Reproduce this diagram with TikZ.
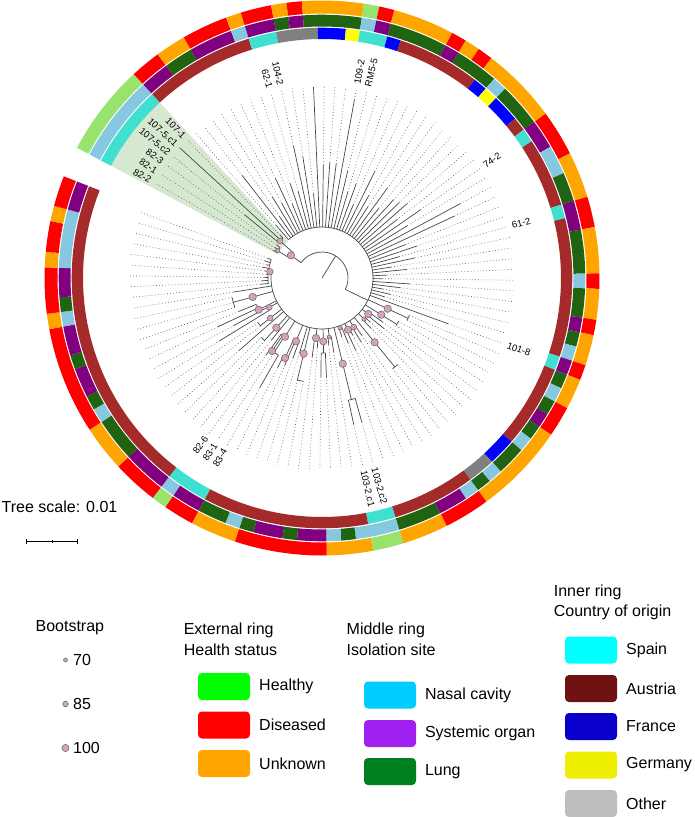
\documentclass[tikz,border=0pt]{standalone}
\usepackage{fontspec}
\setmainfont{Liberation Sans}
% ring colours
\definecolor{hG}{RGB}{152,226,110}
\definecolor{hR}{RGB}{255,0,0}
\definecolor{hO}{RGB}{255,165,0}
\definecolor{sL}{RGB}{135,200,225}
\definecolor{sP}{RGB}{128,0,128}
\definecolor{sD}{RGB}{32,100,18}
\definecolor{cC}{RGB}{64,224,208}
\definecolor{cB}{RGB}{165,42,42}
\definecolor{cF}{RGB}{0,0,255}
\definecolor{cY}{RGB}{255,255,0}
\definecolor{cO}{RGB}{128,128,128}
% legend colours
\definecolor{lgG}{RGB}{0,255,0}
\definecolor{lgR}{RGB}{255,0,0}
\definecolor{lgO}{RGB}{255,165,0}
\definecolor{lgL}{RGB}{0,204,255}
\definecolor{lgP}{RGB}{160,32,240}
\definecolor{lgD}{RGB}{0,128,32}
\definecolor{lgC}{RGB}{0,255,255}
\definecolor{lgB}{RGB}{112,18,18}
\definecolor{lgF}{RGB}{10,0,204}
\definecolor{lgY}{RGB}{238,238,0}
\definecolor{lgO2}{RGB}{190,190,190}
\definecolor{pinkc}{RGB}{215,160,190}
\definecolor{wedgec}{RGB}{214,232,208}
\begin{document}
\begin{tikzpicture}[x=1pt,y=1pt,
  branch/.style={draw=black!72, line width=0.7pt},
  dots/.style={draw=black!62, line width=0.6pt, dash pattern=on 0.8pt off 2.3pt},
  bnode/.style={fill=pinkc, draw=black!60, line width=0.5pt},
  lab/.style={font=\fontsize{9.5}{11}\selectfont, inner sep=0pt},
  legt/.style={font=\fontsize{16}{19}\selectfont, inner sep=0pt, anchor=west},
  swatch/.style={rounded corners=4pt, minimum width=52pt, minimum height=27pt, inner sep=0pt}]
\useasboundingbox (0,0) rectangle (694,-817);
\begin{scope}[shift={(322,-278)}]
% highlighted clade
\fill[wedgec] (132.72:50) arc[start angle=132.72, end angle=152, radius=50] -- (152:239) arc[start angle=152, end angle=132.72, radius=239] -- cycle;
% outer ring: health status
\foreach \s/\e/\c in {0/5/hG,6/7/hR,8/9/hO,10/12/hR,13/13/hO,14/15/hR,16/16/hO,17/17/hR,18/21/hO,22/22/hG,23/23/hR,24/27/hO,28/28/hR,29/29/hO,30/30/hR,31/35/hO,36/38/hR,39/41/hO,42/43/hR,44/46/hO,47/47/hR,48/49/hO,50/50/hR,51/52/hO,53/53/hR,54/55/hO,56/57/hR,58/63/hO,64/66/hR,67/69/hO,70/71/hG,72/74/hO,75/80/hR,81/83/hO,84/85/hR,86/86/hG,87/89/hR,90/92/hO,93/99/hR,100/100/hO,101/103/hR,104/104/hO,105/106/hR,107/107/hO,108/109/hR}{
  \pgfmathsetmacro{\aA}{152-\s*3.21364}
  \pgfmathsetmacro{\aB}{152-(\e+1)*3.21364}
  \fill[\c] (\aA:264.5) arc[start angle=\aA, end angle=\aB, radius=264.5] -- (\aB:277.5) arc[start angle=\aB, end angle=\aA, radius=277.5] -- cycle;
}
% middle ring: isolation site
\foreach \s/\e/\c in {0/5/sL,6/7/sP,8/9/sD,10/12/sP,13/13/sL,14/15/sP,16/16/sD,17/17/sP,18/21/sD,22/22/sL,23/23/sP,24/27/sD,28/28/sP,29/31/sD,32/32/sL,33/35/sD,36/37/sP,38/39/sL,40/41/sD,42/43/sP,44/46/sD,47/47/sL,48/49/sD,50/50/sP,51/51/sD,52/52/sL,53/53/sP,54/54/sD,55/55/sL,56/56/sD,57/57/sP,58/58/sD,59/59/sL,60/61/sD,62/62/sL,63/63/sD,64/64/sL,65/66/sP,67/69/sD,70/72/sL,73/73/sD,74/74/sL,75/76/sP,77/77/sD,78/79/sP,80/80/sD,81/81/sL,82/83/sD,84/85/sP,86/86/sL,87/89/sP,90/92/sD,93/93/sL,94/94/sD,95/96/sP,97/97/sD,98/99/sP,100/100/sL,101/101/sD,102/103/sP,104/107/sL,108/109/sP}{
  \pgfmathsetmacro{\aA}{152-\s*3.21364}
  \pgfmathsetmacro{\aB}{152-(\e+1)*3.21364}
  \fill[\c] (\aA:251.5) arc[start angle=\aA, end angle=\aB, radius=251.5] -- (\aB:263.3) arc[start angle=\aB, end angle=\aA, radius=263.3] -- cycle;
}
% inner ring: country
\foreach \s/\e/\c in {0/5/cC,6/13/cB,14/15/cC,16/18/cO,19/20/cF,21/21/cY,22/23/cC,24/24/cF,25/30/cB,31/31/cF,32/32/cY,33/34/cF,35/35/cB,36/36/cC,37/41/cB,42/42/cC,43/52/cB,53/53/cC,54/59/cB,60/61/cF,62/63/cO,64/69/cB,70/71/cC,72/83/cB,84/86/cC,87/109/cB}{
  \pgfmathsetmacro{\aA}{152-\s*3.21364}
  \pgfmathsetmacro{\aB}{152-(\e+1)*3.21364}
  \fill[\c] (\aA:239) arc[start angle=\aA, end angle=\aB, radius=239] -- (\aB:250.3) arc[start angle=\aB, end angle=\aA, radius=250.3] -- cycle;
}
% leaves: index / start of solid / end of solid
\foreach \i/\rs/\L in {0/52/56,1/52/56,2/52/56,3/56/100,4/56/193,5/56/60,
  6/51/70,7/51/130,8/51/75,9/51/95,10/51/85,11/51/110,12/51/80,13/51/100,14/51/90,15/51/135,
  16/51/123,17/51/85,18/51/191,19/51/113,20/51/116,21/51/115,22/51/181,23/51/110,24/51/90,25/51/100,
  26/51/80,27/51/119,28/51/95,29/51/85,30/51/111,31/51/90,32/51/106,33/51/108,34/51/113,35/51/95,
  36/51/120,37/51/100,38/51/157,39/51/146,40/51/90,41/51/100,42/51/80,43/51/95,44/51/70,45/51/85,
  46/51/65,47/51/60,48/51/88,49/51/79,50/51/62,51/51/70,52/51/65,53/51/134,54/95/95,55/95/95,
  56/88/88,57/88/88,58/58.6/75,59/58.6/80,60/58.7/65,61/58.7/70,62/115/115,63/115/115,64/58.4/70,65/58.4/75,
  66/57.9/65,67/57.9/80,68/52.9/70,69/52.9/62,70/125/150,71/125/150,72/59.5/75,73/59.5/68,74/75/99,75/75/99,
  76/60.3/70,77/60.3/80,78/105/105,79/105/105,80/51/78,81/68.4/85,82/68.4/95,83/88.1/100,84/88.5/126,85/69.4/90,
  86/69.4/95,87/51/80,88/85/85,89/85/85,90/51/110,91/78/78,92/78/78,93/60.3/120,94/60.3/100,95/70.8/115,
  96/70.8/90,97/92/92,98/92/92,99/92/92,100/51/90,101/54/62,102/54/60,103/54/58,104/54/56,105/54/58,
  106/54/60,107/54/57,108/54/60,109/54/58}{
  \pgfmathsetmacro{\t}{152-(\i+0.5)*3.21364}
  \ifdim \L pt>\rs pt \draw[branch] (\t:\rs) -- (\t:\L); \fi
  \ifdim \L pt<189pt \draw[dots] (\t:\L) -- (\t:192); \fi
}
% radial stems of internal branches
\foreach \t/\a/\b in {58.4/0/26,143.8/26/38.4,-26/26/51,148.4/38.4/52,138.6/38.4/56,
  -25.1/51/72.5,-25.1/72.5/95,-31.8/51/69.7,-31.8/69.7/88,-37.9/51/58.6,-44.3/51/58.7,
  -50.7/51/83.1,-50.7/83.1/115,-57.1/51/58.4,-63.3/51/57.9,-70.1/51/52.9,-76.4/51/88.2,-76.4/88.2/125,
  -83/51/59.5,-88.8/51/63.3,-88.8/63.3/75,-95.7/51/60.3,-103.6/51/77.9,-103.6/77.9/105,
  -112.3/51/68.4,-114.8/68.4/88.1,-122.2/51/69.4,-124.4/69.4/88.5,-132.6/51/67.5,-132.6/67.5/85,
  -142.3/51/65.4,-142.3/65.4/78,-150.9/51/60.3,-153.4/51/70.8,-164.7/51/71.9,-164.7/71.9/92,173.1/51/54}{
  \draw[branch] (\t:\a) -- (\t:\b);
}
% arcs joining children
\foreach \p/\q/\r in {143.8/-26/26,148.4/138.6/38.4,150.4/144.0/52,140.8/134.3/56,131.1/-186.9/51,
  -23.1/-26.3/95,-29.5/-32.7/88,-35.9/-39.1/58.6,-42.3/-45.6/58.7,-48.8/-52.0/115,-55.2/-58.4/58.4,
  -61.6/-64.8/57.9,-68.0/-71.3/52.9,-74.5/-77.7/125,-80.9/-84.1/59.5,-87.3/-90.5/75,-93.7/-97.0/60.3,
  -100.2/-103.6/105,-109.8/-114.8/68.4,-114.8/-116.2/88.1,-119.4/-124.4/88.5,-122.2/-125.9/69.4,
  -132.3/-135.5/85,-141.9/-145.1/78,-148.4/-151.6/60.3,-153.4/-158.0/70.8,-161.2/-167.6/92,-174.1/-199.7/54}{
  \draw[branch] (\p:\r) arc[start angle=\p, end angle=\q, radius=\r];
}
% bootstrap circles
\foreach \t/\r/\s in {138.6/56/2.9,148.4/52/2.2,143.8/38.4/3.7,173.1/52.4/3.2,-164.7/71.9/3.7,
  -153.4/70.8/3.7,-150.9/60.3/2.9,-142.3/65.4/2.9,-132.6/67.5/3.7,-122.2/69.4/3.7,-112.3/68.4/3.7,
  -124.4/88.5/3.7,-114.8/88.1/3.7,-103.6/77.9/3.7,-95.7/60.3/3.7,-88.8/63.3/3.7,-83/59.5/2.1,
  -70.1/52.9/2.2,-63.3/57.9/3.7,-57.1/58.4/2.9,-76.4/88.2/3.7,-44.3/58.7/2.2,-37.9/58.6/3.7,
  -31.8/69.7/3.7,-25.1/72.5/3.7,-50.7/83.1/3.7}{
  \draw[bnode] (\t:\r) circle[radius=\s];
}
% tip labels
\foreach \i/\txt in {0/82-2,1/82-1,2/82-3,3/107-5.c2,4/107-5.c1,5/107-1,14/62-1,15/104-2,22/109-2,23/RM5-5,
  36/74-2,42/61-2,53/101-8,70/103-2.c2,71/103-2.c1,84/83-4,85/83-1,86/82-6}{
  \pgfmathsetmacro{\t}{152-(\i+0.5)*3.21364}
  \ifdim \t pt>90pt
    \node[lab, rotate=\t-180, anchor=east] (lab\i) at (\t:197) {\txt};
  \else\ifdim \t pt<-90pt
    \node[lab, rotate=\t+180, anchor=east] (lab\i) at (\t:197) {\txt};
  \else
    \node[lab, rotate=\t, anchor=west] (lab\i) at (\t:197) {\txt};
  \fi\fi
}
\end{scope}
% tree scale
\node[legt] (tscale) at (1.5,-506.7) {Tree scale: 0.01};
\draw[line width=0.9pt] (26.7,-541.7) -- (77.3,-541.7);
\draw[line width=0.9pt] (26.7,-539.3) -- (26.7,-544.1);
\draw[line width=0.9pt] (77.3,-539.3) -- (77.3,-544.1);
\draw[line width=0.7pt] (52,-540.4) -- (52,-543);
% legend: bootstrap
\node[legt] (bt) at (35.4,-628) {Bootstrap};
\draw[bnode] (65.5,-660) circle[radius=2];
\node[legt] (b70) at (73,-660) {70};
\draw[bnode] (65.5,-704) circle[radius=2.8];
\node[legt] (b85) at (73,-704) {85};
\draw[bnode] (65.5,-748) circle[radius=3.6];
\node[legt] (b100) at (73,-748) {100};
% legend: external ring
\node[legt] (e1) at (183.6,-630) {External ring};
\node[legt] (e2) at (183.6,-649.3) {Health status};
\node[swatch, fill=lgG] (swh) at (224,-686.5) {};
\node[legt] (th) at (259,-686.5) {Healthy};
\node[swatch, fill=lgR] (swd) at (224,-725) {};
\node[legt] (td) at (259,-725) {Diseased};
\node[swatch, fill=lgO] (swu) at (224,-763.5) {};
\node[legt] (tu) at (259,-763.5) {Unknown};
% legend: middle ring
\node[legt] (m1) at (346.5,-630) {Middle ring};
\node[legt] (m2) at (346.5,-649.3) {Isolation site};
\node[swatch, fill=lgL] (swn) at (390,-695) {};
\node[legt] (tn) at (424.8,-695) {Nasal cavity};
\node[swatch, fill=lgP] (sws) at (390,-733.5) {};
\node[legt] (tsy) at (424.8,-733.5) {Systemic organ};
\node[swatch, fill=lgD] (swl) at (390,-771.5) {};
\node[legt] (tl) at (424.8,-771.5) {Lung};
% legend: inner ring
\node[legt] (i1) at (553.7,-592) {Inner ring};
\node[legt] (i2) at (553.7,-612.7) {Country of origin};
\node[swatch, fill=lgC] (swsp) at (591,-650) {};
\node[legt] (tsp) at (626,-650) {Spain};
\node[swatch, fill=lgB] (swa) at (591,-688.5) {};
\node[legt] (ta) at (626,-688.5) {Austria};
\node[swatch, fill=lgF] (swf) at (591,-726.5) {};
\node[legt] (tf) at (626,-726.5) {France};
\node[swatch, fill=lgY] (swg) at (591,-765) {};
\node[legt] (tg) at (626,-765) {Germany};
\node[swatch, fill=lgO2] (swo) at (591,-803.5) {};
\node[legt] (to) at (626,-803.5) {Other};
\end{tikzpicture}
\end{document}
